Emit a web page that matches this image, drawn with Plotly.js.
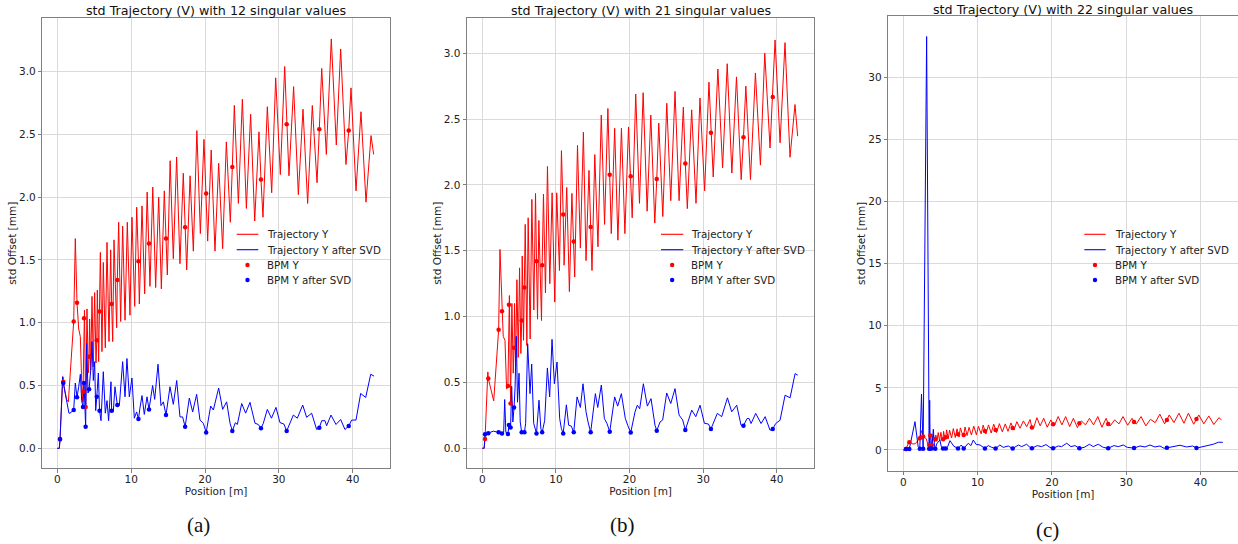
<!DOCTYPE html>
<html><head><meta charset="utf-8">
<script src="https://cdn.plot.ly/plotly-3.0.1.min.js"></script>
<style>html,body{margin:0;padding:0;background:#fff}#chart{width:1238px;height:544px}</style>
</head><body><div id="chart"></div>
<script>
// ---------- DATA ----------
const bpmPos = [0.37, 0.81, 2.22, 2.67, 3.48, 3.62, 3.84, 4.31, 5.35, 5.72, 7.36, 8.13, 10.99, 12.42, 14.72, 17.31, 20.16, 23.7, 27.58, 31.06, 35.48, 39.46];

const panelTitles = ["std Trajectory (V) with 12 singular values", "std Trajectory (V) with 21 singular values", "std Trajectory (V) with 22 singular values"];
const captions = ["(a)", "(b)", "(c)"];
const seriesNames = ["Trajectory Y", "Trajectory Y after SVD", "BPM Y", "BPM Y after SVD"];
const xTicks = [0, 10, 20, 30, 40];

// Panel (a): 12 singular values
const aTrajX = [0, 0.28, 0.75, 1.25, 1.5, 2.44, 2.9, 3.12, 3.3, 3.38, 3.68, 4.02, 4.2, 4.38, 4.52, 4.70, 4.88, 5.06, 5.24, 5.42, 5.6, 5.83, 6.05, 6.23, 6.5, 6.73, 7.0, 7.23, 7.5, 7.68, 8.04, 8.31, 8.58, 8.85, 9.17, 9.48, 9.84, 10.11, 10.48, 10.75, 11.11, 11.47, 11.83, 12.17, 12.55, 12.93, 13.32, 13.73, 14.09, 14.49, 14.9, 15.28, 15.71, 16.16, 16.61, 17.06, 17.52, 17.98, 18.42, 18.9, 19.37, 19.86, 20.36, 20.84, 21.35, 21.85, 22.39, 22.89, 23.43, 23.97, 24.52, 25.06, 25.6, 26.18, 26.73, 27.31, 27.85, 28.44, 29.03, 29.57, 30.2, 30.79, 31.37, 32.0, 32.64, 33.27, 33.9, 34.53, 35.17, 35.8, 36.43, 37.1, 37.78, 38.37, 39.09, 39.77, 40.45, 41.12, 41.8, 42.48, 42.84];
const aTrajY = [0, 0, 0.57, 0.39, 0.37, 1.67, 0.95, 0.89, 0.45, 0.37, 1.10, 1.11, 0.60, 1.03, 0.62, 1.21, 0.65, 1.24, 0.68, 1.26, 0.69, 1.56, 0.77, 1.48, 0.80, 1.64, 0.85, 1.58, 0.85, 1.66, 0.96, 1.80, 1.01, 1.77, 1.02, 1.80, 1.06, 1.84, 1.13, 1.92, 1.15, 1.93, 1.23, 2.04, 1.29, 2.08, 1.28, 2.0, 1.27, 2.05, 1.38, 2.29, 1.51, 2.32, 1.47, 2.19, 1.42, 2.17, 1.57, 2.53, 1.71, 2.46, 1.65, 2.375, 1.57, 2.27, 1.59, 2.44, 1.80, 2.73, 1.95, 2.78, 1.91, 2.66, 1.81, 2.52, 1.84, 2.72, 2.035, 2.95, 2.18, 3.04, 2.17, 2.88, 2.02, 2.70, 1.95, 2.73, 2.115, 3.025, 2.34, 3.26, 2.415, 3.18, 2.26, 2.87, 2.05, 2.68, 1.96, 2.49, 2.34];
const aSvdX = [0, 0.27, 0.73, 1.27, 1.58, 1.72, 2.44, 2.9, 3.12, 3.3, 3.98, 4.16, 4.52, 4.7, 4.88, 5.06, 5.2, 5.56, 5.92, 6.23, 6.5, 6.73, 6.95, 7.27, 7.58, 7.81, 8.4, 8.85, 9.17, 9.43, 9.75, 10.11, 10.43, 10.74, 11.19, 11.47, 11.78, 12.15, 12.91, 13.19, 13.64, 14.04, 14.36, 15.26, 15.71, 16.17, 16.61, 16.97, 17.88, 18.33, 18.87, 19.32, 19.77, 20.77, 21.13, 21.85, 22.39, 22.93, 23.39, 24.11, 24.38, 24.97, 25.5, 26.09, 26.77, 27.22, 27.9, 28.44, 29.0, 29.61, 30.15, 30.69, 31.51, 31.96, 32.5, 33.23, 33.76, 34.44, 35.12, 35.8, 36.24, 36.47, 37.06, 37.74, 38.37, 38.95, 39.86, 40.45, 41.08, 41.76, 42.44, 42.89];
const aSvdY = [0, 0, 0.57, 0.38, 0.28, 0.28, 0.52, 0.49, 0.59, 0.38, 0.835, 0.44, 0.62, 0.85, 0.54, 0.69, 0.30, 0.60, 0.22, 0.61, 0.28, 0.38, 0.22, 0.53, 0.29, 0.49, 0.34, 0.69, 0.41, 0.715, 0.41, 0.56, 0.24, 0.29, 0.32, 0.42, 0.27, 0.41, 0.50, 0.39, 0.67, 0.34, 0.37, 0.49, 0.35, 0.54, 0.25, 0.25, 0.40, 0.29, 0.43, 0.225, 0.20, 0.337, 0.305, 0.48, 0.31, 0.37, 0.20, 0.204, 0.19, 0.357, 0.28, 0.366, 0.20, 0.19, 0.20, 0.31, 0.24, 0.326, 0.205, 0.193, 0.205, 0.265, 0.24, 0.345, 0.247, 0.28, 0.15, 0.22, 0.22, 0.18, 0.265, 0.19, 0.23, 0.15, 0.225, 0.225, 0.437, 0.405, 0.59, 0.575];
const aBpmY = [0.07, 0.53, 1.01, 1.16, 0.45, 1.035, 0.33, 0.73, 0.86, 1.09, 1.15, 1.34, 1.49, 1.63, 1.67, 1.76, 2.03, 2.24, 2.14, 2.58, 2.54, 2.53];
const aBpmSvdY = [0.074, 0.52, 0.305, 0.406, 0.33, 0.52, 0.172, 0.47, 0.41, 0.30, 0.30, 0.345, 0.233, 0.31, 0.265, 0.172, 0.127, 0.138, 0.159, 0.138, 0.164, 0.178];

// Panel (b): 21 singular values
const bTrajX = [0, 0.25, 0.75, 1.55, 2.4, 2.84, 3.08, 3.3, 3.68, 4.02, 4.2, 4.38, 4.52, 4.70, 4.88, 5.06, 5.24, 5.42, 5.6, 5.83, 6.05, 6.23, 6.5, 6.73, 7.0, 7.23, 7.5, 7.68, 8.04, 8.31, 8.58, 8.85, 9.17, 9.48, 9.84, 10.11, 10.48, 10.75, 11.11, 11.47, 11.83, 12.17, 12.55, 12.93, 13.32, 13.73, 14.09, 14.49, 14.9, 15.28, 15.71, 16.16, 16.61, 17.06, 17.52, 17.98, 18.42, 18.9, 19.37, 19.86, 20.36, 20.84, 21.35, 21.85, 22.39, 22.89, 23.43, 23.97, 24.52, 25.06, 25.6, 26.18, 26.73, 27.31, 27.85, 28.44, 29.03, 29.57, 30.2, 30.79, 31.37, 32.0, 32.64, 33.27, 33.9, 34.53, 35.17, 35.8, 36.43, 37.1, 37.78, 38.37, 39.09, 39.77, 40.45, 41.12, 41.8, 42.48, 42.84];
const bTrajY = [0, 0, 0.58, 0.36, 1.51, 0.85, 0.82, 0.45, 1.16, 1.10, 0.57, 1.10, 0.62, 1.28, 0.69, 1.37, 0.72, 1.46, 0.82, 1.70, 0.78, 1.75, 0.83, 1.89, 1.05, 1.935, 0.98, 1.73, 0.97, 1.93, 1.18, 2.14, 1.25, 1.94, 1.11, 1.94, 1.35, 2.26, 1.39, 1.98, 1.19, 1.935, 1.30, 2.30, 1.52, 2.40, 1.425, 2.11, 1.35, 2.23, 1.53, 2.53, 1.70, 2.58, 1.63, 2.43, 1.58, 2.43, 1.63, 2.44, 1.75, 2.69, 1.86, 2.70, 1.80, 2.53, 1.71, 2.47, 1.76, 2.62, 1.88, 2.71, 1.88, 2.59, 1.82, 2.57, 1.86, 2.66, 1.955, 2.78, 2.06, 2.88, 2.13, 2.92, 2.09, 2.82, 2.04, 2.75, 2.04, 2.85, 2.15, 3.0, 2.28, 3.10, 2.32, 3.08, 2.21, 2.61, 2.37];
const bSvdX = [0, 0.25, 1.5, 2.9, 3.04, 3.2, 3.99, 4.15, 4.45, 4.62, 4.78, 4.99, 5.15, 5.5, 5.89, 6.16, 6.48, 6.71, 6.98, 7.21, 7.7, 7.95, 8.47, 8.84, 9.15, 9.47, 9.79, 10.15, 10.51, 10.74, 11.42, 11.73, 12.1, 12.87, 13.32, 13.68, 14.09, 14.36, 15.36, 15.68, 16.17, 16.58, 16.94, 17.98, 18.39, 18.89, 19.43, 19.75, 20.75, 21.06, 21.38, 21.88, 22.42, 22.92, 23.46, 24.15, 24.5, 25.05, 25.6, 26.18, 26.73, 27.22, 28.45, 29.0, 29.58, 30.17, 30.72, 31.93, 32.52, 33.3, 33.88, 34.56, 35.15, 35.97, 36.24, 36.51, 37.14, 37.87, 38.42, 39.09, 39.86, 40.45, 41.13, 41.81, 42.49, 42.85];
const bSvdY = [0, 0, 0.13, 0.12, 0.37, 0.12, 0.47, 0.20, 0.46, 0.85, 0.35, 0.57, 0.2, 0.12, 0.19, 0.794, 0.415, 0.64, 0.19, 0.15, 0.365, 0.15, 0.21, 0.61, 0.39, 0.827, 0.49, 0.655, 0.226, 0.15, 0.33, 0.175, 0.168, 0.39, 0.31, 0.49, 0.277, 0.2, 0.415, 0.31, 0.48, 0.226, 0.188, 0.39, 0.32, 0.415, 0.226, 0.175, 0.277, 0.327, 0.30, 0.49, 0.32, 0.377, 0.175, 0.2, 0.215, 0.42, 0.34, 0.453, 0.252, 0.215, 0.29, 0.24, 0.327, 0.19, 0.184, 0.265, 0.24, 0.383, 0.277, 0.327, 0.175, 0.226, 0.226, 0.188, 0.265, 0.188, 0.24, 0.137, 0.188, 0.213, 0.403, 0.383, 0.567, 0.555];
const bBpmY = [0.07, 0.53, 0.90, 1.04, 0.473, 1.09, 0.34, 0.764, 0.97, 1.22, 1.42, 1.39, 1.775, 1.57, 1.68, 2.077, 2.066, 2.044, 2.163, 2.395, 2.362, 2.668];
const bBpmSvdY = [0.106, 0.114, 0.121, 0.113, 0.108, 0.177, 0.157, 0.31, 0.121, 0.121, 0.113, 0.121, 0.113, 0.121, 0.121, 0.126, 0.119, 0.134, 0.139, 0.147, 0.172, 0.147];

// Panel (c): 22 singular values
const cTrajX = [0, 0.25, 0.75, 1.3, 1.6, 2.43, 2.9, 3.1, 3.3, 3.68, 4.02, 4.2, 4.38, 4.52, 4.70, 4.88, 5.06, 5.24, 5.42, 5.6, 5.83, 6.05, 6.23, 6.5, 6.73, 7.0, 7.23, 7.5, 7.68, 8.04, 8.31, 8.58, 8.85, 9.17, 9.48, 9.84, 10.11, 10.48, 10.75, 11.11, 11.47, 11.83, 12.17, 12.55, 12.93, 13.32, 13.73, 14.09, 14.49, 14.9, 15.28, 15.71, 16.16, 16.61, 17.06, 17.52, 17.98, 18.42, 18.9, 19.37, 19.86, 20.36, 20.84, 21.35, 21.85, 22.39, 22.89, 23.43, 23.97, 24.52, 25.06, 25.6, 26.18, 26.73, 27.31, 27.85, 28.44, 29.03, 29.57, 30.2, 30.79, 31.37, 32.0, 32.64, 33.27, 33.9, 34.53, 35.17, 35.8, 36.43, 37.1, 37.78, 38.37, 39.09, 39.77, 40.45, 41.12, 41.8, 42.48, 42.84];
const cTrajY = [0, 0, 0.65, 0.48, 0.5, 1.56, 0.95, 0.9, 0.45, 1.30, 1.25, 0.65, 1.20, 0.70, 1.40, 0.74, 1.42, 0.80, 1.50, 0.84, 1.62, 0.90, 1.60, 0.96, 1.72, 1.00, 1.70, 1.04, 1.78, 1.10, 1.85, 1.16, 1.82, 1.20, 1.92, 1.22, 1.90, 1.30, 2.00, 1.28, 2.02, 1.36, 2.08, 1.40, 2.12, 1.46, 2.10, 1.50, 2.18, 1.60, 2.28, 1.75, 2.34, 1.88, 2.45, 1.75, 2.60, 1.94, 2.55, 1.83, 2.42, 1.99, 2.69, 2.02, 2.69, 1.88, 2.55, 1.80, 2.34, 2.02, 2.55, 2.02, 2.69, 1.83, 2.55, 1.94, 2.42, 2.10, 2.69, 1.99, 2.55, 2.10, 2.69, 1.94, 2.47, 2.20, 2.88, 2.10, 2.82, 2.20, 2.96, 2.15, 2.96, 2.07, 2.82, 2.10, 2.74, 2.05, 2.60, 2.42];
const cSvdX = [0, 0.25, 1.57, 2.0, 2.45, 3.14, 3.55, 3.75, 4.04, 4.2, 4.5, 4.93, 5.1, 5.55, 6.0, 6.28, 6.8, 7.8, 8.75, 9.1, 9.42, 9.8, 10.33, 11.44, 11.9, 13.0, 13.45, 14.13, 15.5, 15.93, 16.6, 17.05, 18.03, 18.6, 19.2, 19.74, 20.86, 21.3, 21.99, 22.57, 23.1, 24.36, 25.04, 25.57, 26.24, 26.91, 28.35, 28.94, 29.61, 30.15, 31.86, 32.53, 33.2, 33.87, 34.55, 35.1, 36.34, 37.24, 38.14, 38.95, 40.38, 41.05, 41.72, 42.4, 43.0];
const cSvdY = [0, 0, 2.28, 0.27, 4.5, 33.3, 4.0, 0.6, 1.67, 0.3, 0.5, 0.8, 0.3, 0.25, 0.3, 0.75, 0.3, 0.4, 0.54, 0.35, 0.8, 0.45, 0.4, 0.35, 0.21, 0.4, 0.21, 0.32, 0.4, 0.27, 0.46, 0.21, 0.35, 0.27, 0.43, 0.21, 0.32, 0.27, 0.54, 0.27, 0.35, 0.21, 0.46, 0.27, 0.46, 0.21, 0.35, 0.27, 0.4, 0.21, 0.32, 0.24, 0.4, 0.24, 0.32, 0.13, 0.27, 0.38, 0.24, 0.32, 0.27, 0.4, 0.46, 0.62, 0.62];
const cBpmY = [0.08, 0.62, 0.94, 1.08, 0.40, 1.16, 0.40, 0.86, 0.86, 1.02, 1.26, 1.21, 1.53, 1.61, 1.77, 1.80, 2.07, 2.15, 2.10, 2.26, 2.42, 2.50];
const cBpmSvdY = [0.08, 0.08, 0.10, 0.10, 0.10, 0.12, 0.12, 0.10, 0.12, 0.12, 0.12, 0.12, 0.12, 0.12, 0.12, 0.13, 0.13, 0.14, 0.14, 0.15, 0.17, 0.15];

// ---------- BUILD ----------
const W = 1238, H = 544;
function merge(tx, ty, bx, by) {
  const pts = [];
  for (let i = 0; i < Math.min(tx.length, ty.length); i++) pts.push([tx[i], ty[i]]);
  for (let i = 0; i < Math.min(bx.length, by.length); i++) pts.push([bx[i], by[i]]);
  pts.sort((p, q) => p[0] - q[0]);
  return {x: pts.map(p => p[0]), y: pts.map(p => p[1])};
}

const RED = '#ff0000', BLUE = '#0000ff';
const FONT = 'DejaVu Sans';
const panels = [
  {tx: aTrajX, ty: aTrajY, sx: aSvdX, sy: aSvdY, b: aBpmY, bs: aBpmSvdY,
   left: 42.3, right: 390, top: 18.3, bottom: 468.3, xr: [-2.03, 45.05], yr: [-0.159, 3.424], dtick: 0.5, fmt: '.1f',
   leg: {lx0: 236.7, lx1: 258.3, tx: 265.0}, titleX: 216, titleY: 10.5, capX: 198, capY: 525},
  {tx: bTrajX, ty: bTrajY, sx: bSvdX, sy: bSvdY, b: bBpmY, bs: bBpmSvdY,
   left: 467, right: 814.3, top: 18.3, bottom: 468.3, xr: [-2.08, 45.1], yr: [-0.152, 3.265], dtick: 0.5, fmt: '.1f',
   leg: {lx0: 661, lx1: 683.3, tx: 689.3}, titleX: 640.5, titleY: 10.5, capX: 622, capY: 525},
  {tx: cTrajX, ty: cTrajY, sx: cSvdX, sy: cSvdY, b: cBpmY, bs: cBpmSvdY,
   left: 888.3, right: 1238, top: 16, bottom: 470.7, xr: [-2.02, 45.05], yr: [-1.67, 34.95], dtick: 5, fmt: 'd',
   leg: {lx0: 1084.3, lx1: 1105.7, tx: 1113.3}, titleX: 1063.3, titleY: 9, capX: 1047, capY: 530}
];
const legRows = [234.3, 249.7, 265, 280];

const traces = [];
const layout = {
  width: W, height: H, margin: {l: 0, r: 0, t: 0, b: 0},
  paper_bgcolor: '#fff', plot_bgcolor: '#fff', showlegend: false,
  font: {family: FONT, size: 10.3, color: '#222'},
  annotations: [], shapes: []
};
const px = v => v / W, py = v => 1 - v / H;

panels.forEach((p, i) => {
  const sfx = i === 0 ? '' : String(i + 1);
  const xa = 'x' + sfx, ya = 'y' + sfx;
  const red = merge(p.tx, p.ty, bpmPos, p.b);
  const blue = merge(p.sx, p.sy, bpmPos, p.bs);
  traces.push({type: 'scatter', mode: 'lines', name: seriesNames[0], x: red.x, y: red.y, xaxis: xa, yaxis: ya, line: {color: RED, width: 1}});
  traces.push({type: 'scatter', mode: 'lines', name: seriesNames[1], x: blue.x, y: blue.y, xaxis: xa, yaxis: ya, line: {color: BLUE, width: 1}});
  traces.push({type: 'scatter', mode: 'markers', name: seriesNames[2], x: bpmPos, y: p.b, xaxis: xa, yaxis: ya, marker: {color: RED, size: 4.5}});
  traces.push({type: 'scatter', mode: 'markers', name: seriesNames[3], x: bpmPos, y: p.bs, xaxis: xa, yaxis: ya, marker: {color: BLUE, size: 4.5}});

  const common = {showgrid: true, gridcolor: '#dadada', gridwidth: 1, zeroline: false,
    showline: true, mirror: true, linecolor: '#808080', linewidth: 1,
    ticks: 'outside', ticklen: 3.5, tickwidth: 1, tickcolor: '#808080',
    tickfont: {family: FONT, size: 10.5, color: '#222'}};
  layout['xaxis' + sfx] = Object.assign({}, common, {
    domain: [px(p.left), Math.min(1, px(p.right))], range: p.xr, anchor: ya,
    tickmode: 'array', tickvals: xTicks, ticktext: xTicks.map(String), ticklabelstandoff: -2,
    title: {text: 'Position [m]', font: {family: FONT, size: 10.5, color: '#222'}, standoff: 0}
  });
  layout['yaxis' + sfx] = Object.assign({}, common, {
    domain: [py(p.bottom), py(p.top)], range: p.yr, anchor: xa,
    tickmode: 'linear', tick0: 0, dtick: p.dtick, tickformat: p.fmt,
    title: {text: 'std Offset [mm]', font: {family: FONT, size: 10.5, color: '#222'}, standoff: 0}
  });

  // panel title
  layout.annotations.push({xref: 'paper', yref: 'paper', x: px(p.titleX), y: py(p.titleY),
    xanchor: 'center', yanchor: 'middle', showarrow: false, text: panelTitles[i], font: {family: FONT, size: 12.7, color: '#111'}});
  // caption
  layout.annotations.push({xref: 'paper', yref: 'paper', x: px(p.capX), y: py(p.capY), xanchor: 'center', yanchor: 'middle',
    showarrow: false, text: captions[i], font: {family: 'Liberation Serif, Times New Roman, serif', size: 21, color: '#111'}});

  // legend drawn inside each panel
  const L = p.leg;
  [RED, BLUE].forEach((c, k) => {
    layout.shapes.push({type: 'line', xref: 'paper', yref: 'paper', x0: px(L.lx0), x1: px(L.lx1), y0: py(legRows[k]), y1: py(legRows[k]), line: {color: c, width: 1.1}});
  });
  [RED, BLUE].forEach((c, k) => {
    layout.shapes.push({type: 'circle', xref: 'paper', yref: 'paper', xsizemode: 'pixel', ysizemode: 'pixel',
      xanchor: px((L.lx0 + L.lx1) / 2), yanchor: py(legRows[k + 2]), x0: -2.2, x1: 2.2, y0: -2.2, y1: 2.2,
      fillcolor: c, line: {width: 0}});
  });
  seriesNames.forEach((s, k) => {
    layout.annotations.push({xref: 'paper', yref: 'paper', x: px(L.tx), y: py(legRows[k]), xanchor: 'left', yanchor: 'middle',
      showarrow: false, text: s, font: {family: FONT, size: 10.3, color: '#222'}});
  });
});

Plotly.newPlot('chart', traces, layout, {staticPlot: true, displayModeBar: false});
</script>
</body></html>
